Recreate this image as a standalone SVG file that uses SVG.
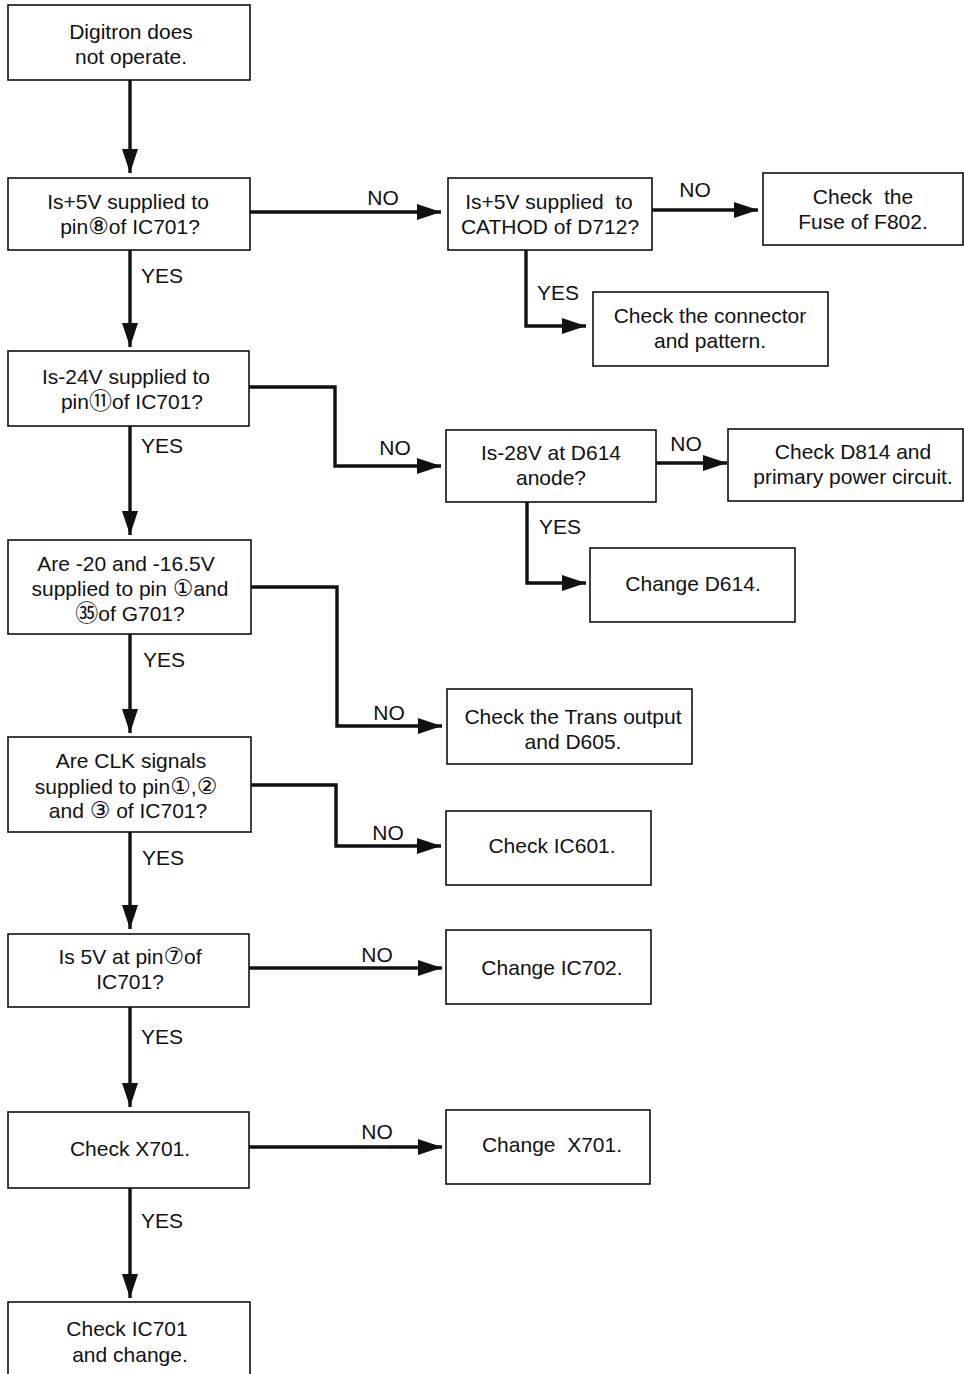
<svg xmlns="http://www.w3.org/2000/svg" width="964" height="1374" viewBox="0 0 964 1374">
<style>
.box{fill:#fff;stroke:#111;stroke-width:1.6}
.t{font-family:"Liberation Sans","DejaVu Sans","Noto Sans CJK JP",sans-serif;font-size:21px;fill:#111;text-anchor:middle}
.cn{font-family:"DejaVu Sans","Noto Sans CJK JP",sans-serif;font-size:23px}
.c{fill:none;stroke:#111;stroke-width:3.4}
</style>
<defs>
<marker id="ah" markerUnits="userSpaceOnUse" markerWidth="24" markerHeight="18" refX="24" refY="9" orient="auto">
<path d="M0,1 L24,9 L0,17 z" fill="#111"/>
</marker>
</defs>
<rect width="964" height="1374" fill="#fff"/>
<g id="connectors">
<path class="c" d="M130,80 V173" marker-end="url(#ah)"/>
<path class="c" d="M250,212 H441" marker-end="url(#ah)"/>
<path class="c" d="M652,210 H758" marker-end="url(#ah)"/>
<path class="c" d="M526,250 V326 H586" marker-end="url(#ah)"/>
<path class="c" d="M130,250 V347" marker-end="url(#ah)"/>
<path class="c" d="M249,387 H335 V466 H441" marker-end="url(#ah)"/>
<path class="c" d="M656,463 H727" marker-end="url(#ah)"/>
<path class="c" d="M527,502 V583 H586" marker-end="url(#ah)"/>
<path class="c" d="M130,426 V535" marker-end="url(#ah)"/>
<path class="c" d="M251,587 H337 V726 H442" marker-end="url(#ah)"/>
<path class="c" d="M130,634 V733" marker-end="url(#ah)"/>
<path class="c" d="M251,785 H336 V846 H441" marker-end="url(#ah)"/>
<path class="c" d="M130,832 V929" marker-end="url(#ah)"/>
<path class="c" d="M249,968 H442" marker-end="url(#ah)"/>
<path class="c" d="M130,1007 V1107" marker-end="url(#ah)"/>
<path class="c" d="M249,1147 H442" marker-end="url(#ah)"/>
<path class="c" d="M130,1188 V1298" marker-end="url(#ah)"/>
<text class="t" x="383" y="205">NO</text>
<text class="t" x="695" y="197">NO</text>
<text class="t" x="558" y="300">YES</text>
<text class="t" x="162" y="283">YES</text>
<text class="t" x="395" y="455">NO</text>
<text class="t" x="686" y="451">NO</text>
<text class="t" x="560" y="534">YES</text>
<text class="t" x="162" y="453">YES</text>
<text class="t" x="389" y="720">NO</text>
<text class="t" x="164" y="667">YES</text>
<text class="t" x="388" y="840">NO</text>
<text class="t" x="163" y="865">YES</text>
<text class="t" x="377" y="962">NO</text>
<text class="t" x="162" y="1044">YES</text>
<text class="t" x="377" y="1139">NO</text>
<text class="t" x="162" y="1228">YES</text>
</g>
<g id="n1"><rect class="box" x="8" y="5" width="242" height="75"/>
<text class="t" x="131" y="39">Digitron does</text><text class="t" x="131" y="64">not operate.</text></g>
<g id="n2"><rect class="box" x="8" y="178" width="242" height="72"/>
<text class="t" x="128" y="209">Is+5V supplied to</text><text class="t" x="130" y="234">pin<tspan class="cn">⑧</tspan>of IC701?</text></g>
<g id="n3"><rect class="box" x="448" y="178" width="204" height="72"/>
<text class="t" x="549" y="209" xml:space="preserve">Is+5V supplied  to</text><text class="t" x="550" y="234">CATHOD of D712?</text></g>
<g id="n4"><rect class="box" x="763" y="173" width="200" height="72"/>
<text class="t" x="863" y="204" xml:space="preserve">Check  the</text><text class="t" x="863" y="229">Fuse of F802.</text></g>
<g id="n5"><rect class="box" x="593" y="292" width="235" height="74"/>
<text class="t" x="710" y="323">Check the connector</text><text class="t" x="710" y="348">and pattern.</text></g>
<g id="n6"><rect class="box" x="8" y="351" width="241" height="75"/>
<text class="t" x="126" y="384">Is-24V supplied to</text><text class="t" x="132" y="409">pin<tspan class="cn">⑪</tspan>of IC701?</text></g>
<g id="n7"><rect class="box" x="446" y="430" width="210" height="72"/>
<text class="t" x="551" y="460">Is-28V at D614</text><text class="t" x="551" y="485">anode?</text></g>
<g id="n8"><rect class="box" x="728" y="429" width="235" height="72"/>
<text class="t" x="853" y="459">Check D814 and</text><text class="t" x="853" y="484">primary power circuit.</text></g>
<g id="n9"><rect class="box" x="590" y="548" width="205" height="74"/>
<text class="t" x="693" y="591">Change D614.</text></g>
<g id="n10"><rect class="box" x="8" y="540" width="243" height="94"/>
<text class="t" x="126" y="571">Are -20 and -16.5V</text><text class="t" x="130" y="596">supplied to pin <tspan class="cn">①</tspan>and</text><text class="t" x="130" y="621"><tspan class="cn">㉟</tspan>of G701?</text></g>
<g id="n11"><rect class="box" x="447" y="689" width="245" height="75"/>
<text class="t" x="573" y="724">Check the Trans output</text><text class="t" x="573" y="749">and D605.</text></g>
<g id="n12"><rect class="box" x="8" y="737" width="243" height="95"/>
<text class="t" x="131" y="768">Are CLK signals</text><text class="t" x="126" y="794">supplied to pin<tspan class="cn">①</tspan>,<tspan class="cn">②</tspan></text><text class="t" x="128" y="818">and <tspan class="cn">③</tspan> of IC701?</text></g>
<g id="n13"><rect class="box" x="446" y="811" width="205" height="74"/>
<text class="t" x="552" y="853">Check IC601.</text></g>
<g id="n14"><rect class="box" x="8" y="934" width="241" height="73"/>
<text class="t" x="130" y="964">Is 5V at pin<tspan class="cn">⑦</tspan>of</text><text class="t" x="130" y="989">IC701?</text></g>
<g id="n15"><rect class="box" x="446" y="930" width="205" height="74"/>
<text class="t" x="552" y="975">Change IC702.</text></g>
<g id="n16"><rect class="box" x="8" y="1112" width="241" height="76"/>
<text class="t" x="130" y="1156">Check X701.</text></g>
<g id="n17"><rect class="box" x="446" y="1110" width="204" height="74"/>
<text class="t" x="552" y="1152" xml:space="preserve">Change  X701.</text></g>
<g id="n18"><rect class="box" x="8" y="1302" width="242" height="80"/>
<text class="t" x="127" y="1336">Check IC701</text><text class="t" x="130" y="1362">and change.</text></g>
</svg>
